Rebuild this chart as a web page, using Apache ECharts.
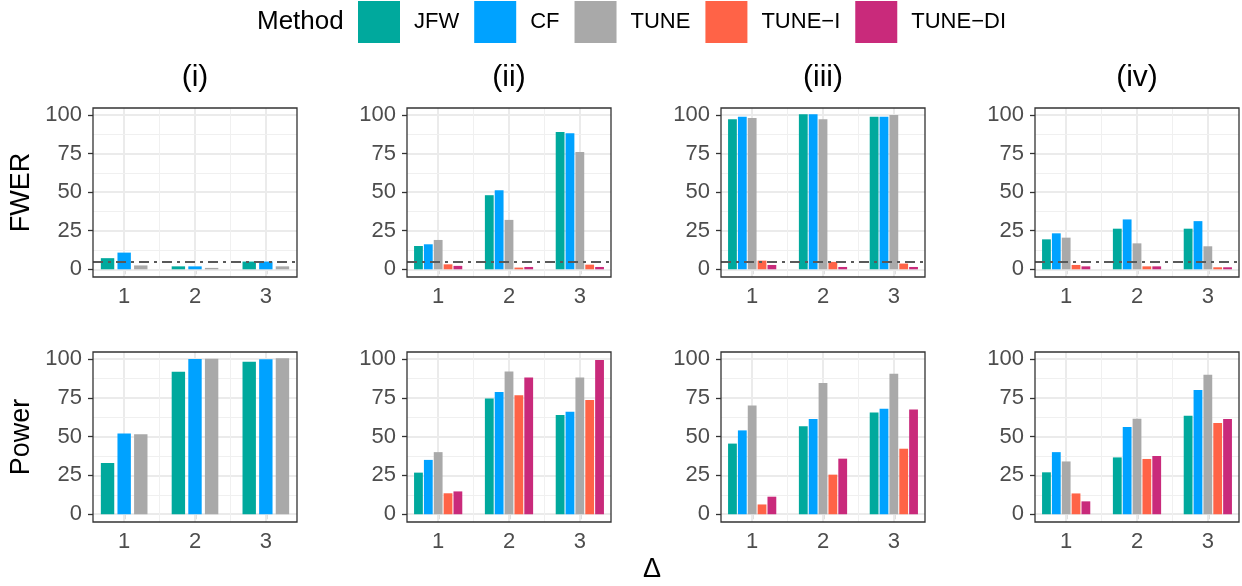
<!DOCTYPE html>
<html>
<head>
<meta charset="utf-8">
<script src="https://cdn.jsdelivr.net/npm/echarts@6/dist/echarts.min.js"></script>
<style>html,body{margin:0;padding:0;background:#fff;}#c{width:1242px;height:586px;}</style>
</head>
<body>
<div id="c"></div>
<script>
// ---- data ----
const deltas = [1, 2, 3];
const panelTitles = ['(i)', '(ii)', '(iii)', '(iv)'];
const rowTitles = ['FWER', 'Power'];
const methods = ['JFW', 'CF', 'TUNE', 'TUNE\u2212I', 'TUNE\u2212DI'];
const methodColors = ['#00A99D', '#00A2FF', '#A9A9A9', '#FF6347', '#C92A7B'];
const yTicks = [0, 25, 50, 75, 100];
const xTicks = [1, 2, 3];
const fwerLevel = 5;

// FWER (%) per panel (i..iv), values at delta 1,2,3
const fwerJFW    = [[7.2, 1.9, 5.0], [15.1, 48, 89], [97.2, 100.5, 98.9], [19.4, 26.3, 26.3]];
const fwerCF     = [[10.8, 1.9, 5.0], [16.2, 51.2, 88.1], [98.9, 100.5, 98.9], [23.3, 32.3, 31.2]];
const fwerTUNE   = [[2.5, 0.9, 1.9], [19, 32, 76], [98, 97.2, 100], [20.5, 16.8, 14.9]];
const fwerTUNEI  = [null, [3.2, 1.1, 3.0], [5.6, 4.8, 3.7], [2.8, 1.9, 1.3]];
const fwerTUNEDI = [null, [2.2, 1.5, 1.5], [2.8, 1.5, 1.5], [1.9, 1.9, 1.3]];

// Power (%) per panel (i..iv)
const powJFW    = [[33, 91.8, 98.3], [26.8, 74.5, 64], [45.5, 56.6, 65.5], [27, 36.6, 63.5]];
const powCF     = [[52, 100, 99.8], [35, 78.8, 66], [54, 61.4, 68], [40, 56.2, 80]];
const powTUNE   = [[51.5, 100.2, 100.5], [40, 92, 88], [70, 84.6, 90.5], [34, 61.5, 89.8]];
const powTUNEI  = [null, [13.5, 76.6, 73.6], [6.3, 25.5, 42.2], [13.4, 35.6, 58.8]];
const powTUNEDI = [null, [14.7, 88, 99.4], [11.3, 35.8, 67.4], [8.3, 37.5, 61.4]];

const rowsData = [
  [fwerJFW, fwerCF, fwerTUNE, fwerTUNEI, fwerTUNEDI],
  [powJFW, powCF, powTUNE, powTUNEI, powTUNEDI]
];

// ---- layout ----
const FONT = 'Liberation Sans, Arial, Helvetica, sans-serif';
const panelLefts = [93, 407, 721, 1035];
const panelWidth = 204;
const rowTops = [108, 352];
const rowHeights = [169, 170];
const xMin = 0.56, xMax = 3.44, yMin = -5, yMax = 104.5;

const grids = [], xAxes = [], yAxes = [], series = [];
for (let r = 0; r < 2; r++) {
  for (let p = 0; p < 4; p++) {
    const g = r * 4 + p;
    grids.push({
      left: panelLefts[p], top: rowTops[r], width: panelWidth, height: rowHeights[r],
      show: true, borderColor: '#333333', borderWidth: 1.3, backgroundColor: 'transparent', z: 10
    });
    xAxes.push({
      type: 'value', gridIndex: g, min: xMin, max: xMax,
      axisLine: { show: false },
      splitLine: { show: false },
      axisTick: { show: true, customValues: xTicks, length: 5, lineStyle: { color: '#333333', width: 1.3 } },
      axisLabel: { customValues: xTicks, color: '#4D4D4D', fontSize: 22, fontFamily: FONT, margin: 9 }
    });
    yAxes.push({
      type: 'value', gridIndex: g, min: yMin, max: yMax,
      axisLine: { show: false },
      splitLine: { show: false },
      axisTick: { show: true, customValues: yTicks, length: 5, lineStyle: { color: '#333333', width: 1.3 } },
      axisLabel: { customValues: yTicks, color: '#4D4D4D', fontSize: 22, fontFamily: FONT, margin: 11 }
    });
    // grid lines (major + minor) via markLine on a helper series
    const major = xTicks.map(v => ({ xAxis: v })).concat(yTicks.map(v => ({ yAxis: v })));
    const minor = [1.5, 2.5].map(v => ({ xAxis: v })).concat([12.5, 37.5, 62.5, 87.5].map(v => ({ yAxis: v })));
    series.push({
      type: 'line', name: '_gridMajor' + g, xAxisIndex: g, yAxisIndex: g, data: [], silent: true,
      markLine: { z: 1, silent: true, symbol: 'none', label: { show: false }, animation: false,
        lineStyle: { color: '#EBEBEB', width: 2, type: 'solid' }, data: major }
    });
    series.push({
      type: 'line', name: '_gridMinor' + g, xAxisIndex: g, yAxisIndex: g, data: [], silent: true,
      markLine: { z: 1, silent: true, symbol: 'none', label: { show: false }, animation: false,
        lineStyle: { color: '#F0F0F0', width: 1, type: 'solid' }, data: minor }
    });
    for (let m = 0; m < methods.length; m++) {
      const vals = rowsData[r][m][p];
      if (!vals) continue;
      series.push({
        type: 'bar', name: methods[m], xAxisIndex: g, yAxisIndex: g, z: 3,
        barWidth: p === 0 ? 13.4 : 8.8,
        barGap: p === 0 ? '24%' : '12%',
        itemStyle: { color: methodColors[m] },
        data: deltas.map((d, i) => [d, vals[i]])
      });
    }
    if (r === 0) {
      series.push({
        type: 'line', name: '_level' + g, xAxisIndex: g, yAxisIndex: g, data: [], silent: true,
        markLine: { z: 6, silent: true, symbol: 'none', label: { show: false }, animation: false,
          lineStyle: { color: '#595959', width: 2, type: [10, 5, 3, 5] }, data: [{ yAxis: fwerLevel }] }
      });
    }
  }
}

const graphics = [];
panelTitles.forEach((t, p) => {
  graphics.push({ type: 'text', x: panelLefts[p] + panelWidth / 2, y: 78,
    style: { text: t, fill: '#000', font: '30px ' + FONT, textAlign: 'center', textVerticalAlign: 'middle' } });
});
rowTitles.forEach((t, r) => {
  graphics.push({ type: 'text', x: 22, y: rowTops[r] + rowHeights[r] / 2, rotation: Math.PI / 2,
    style: { text: t, fill: '#000', font: '27px ' + FONT, textAlign: 'center', textVerticalAlign: 'middle' } });
});
graphics.push({ type: 'text', x: 652, y: 570,
  style: { text: '\u0394', fill: '#000', font: '27px ' + FONT, textAlign: 'center', textVerticalAlign: 'middle' } });
graphics.push({ type: 'text', x: 257, y: 22,
  style: { text: 'Method', fill: '#000', font: '26px ' + FONT, textAlign: 'left', textVerticalAlign: 'middle' } });

const chart = echarts.init(document.getElementById('c'), null, { renderer: 'canvas' });
chart.setOption({
  animation: false,
  backgroundColor: '#ffffff',
  color: methodColors,
  legend: {
    data: methods, left: 358, top: 1, padding: 0, itemWidth: 42, itemHeight: 42, itemGap: 15,
    icon: 'rect', selectedMode: false,
    textStyle: { fontSize: 22, fontFamily: FONT, color: '#000', padding: [0, 0, 0, 9] }
  },
  grid: grids, xAxis: xAxes, yAxis: yAxes, series: series,
  graphic: graphics
});
</script>
</body>
</html>
